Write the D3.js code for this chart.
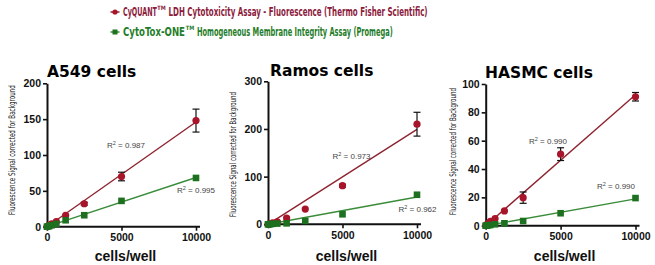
<!DOCTYPE html>
<html><head><meta charset="utf-8">
<script src="https://cdn.jsdelivr.net/npm/d3@7"></script>
<style>
html,body{margin:0;padding:0;background:#fff;}
svg{display:block;}
</style></head>
<body>
<svg id="chart" width="655" height="265"></svg>
<script>
// ---------- data ----------
const cellsPerWell = [0, 78, 156, 312, 625, 1250, 2500, 5000, 10000];
const seriesNames = ["CyQUANT", "CytoTox-ONE"];
const panelTitles = ["A549 cells", "Ramos cells", "HASMC cells"];
const yMaxes = [200, 300, 100];
const yTickSteps = [50, 100, 20];
const xTickValues = [0, 5000, 10000];

const a549CyQuant    = [0, 1, 2, 4, 7, 16, 32, 70, 148];
const a549CyQuantErr = [0, 0, 0, 0, 0, 1, 2, 6, 16];
const a549CytoTox    = [0, 0.5, 1, 2, 4, 9, 16, 36, 68];
const a549CytoToxErr = [0, 0, 0, 0, 0, 0, 0, 1, 1];

const ramosCyQuant    = [0, 0.5, 1.5, 3, 5, 13, 32, 81, 210];
const ramosCyQuantErr = [0, 0, 0, 0, 0, 1, 2, 3, 25];
const ramosCytoTox    = [0, 0, 0.5, 1, 1.5, 2, 7, 21, 62];
const ramosCytoToxErr = [0, 0, 0, 0, 0, 0, 0, 1, 2];

const hasmcCyQuant    = [0, 0.7, 1.5, 3, 5, 10.4, 19.8, 50.5, 91];
const hasmcCyQuantErr = [0, 0, 0.5, 0.5, 0.5, 0.5, 4, 4.5, 3];
const hasmcCytoTox    = [0, 0.1, 0.3, 0.5, 1, 1.7, 3.3, 8.8, 19.5];
const hasmcCytoToxErr = [0, 0, 0, 0, 0, 0, 0, 0.3, 0.5];

const r2CyQuant = ["0.987", "0.973", "0.990"];
const r2CytoTox = ["0.995", "0.962", "0.990"];

const legendLabels = [
  ["CyQUANT", "TM", "LDH Cytotoxicity Assay - Fluorescence (Thermo Fisher Scientific)"],
  ["CytoTox-ONE", "TM", "Homogeneous Membrane Integrity Assay (Promega)"]
];
const yAxisLabel = "Fluorescence Signal corrected for Background";
const xAxisLabel = "cells/well";

// ---------- layout / style ----------
const RED = "#a8142a", RED_LINE = "#8e2430", RED_TEXT = "#8c1a3c";
const GREEN = "#1c701f", GREEN_LINE = "#3a8c3a", GREEN_TEXT = "#1f7d2a";

const panels = [
  {x0: 47,    x1: 196,   yTop: 83.3, y0: 226.7, ylabX: 12,  ylabC: 150,   ylabL: 130, titleX: 47,  titleY: 77,
   r1: [126, 148], r2: [196, 193],
   cq: a549CyQuant, cqe: a549CyQuantErr, ct: a549CytoTox, cte: a549CytoToxErr},
  {x0: 268,   x1: 417,   yTop: 81.3, y0: 224.3, ylabX: 233, ylabC: 154.5, ylabL: 125, titleX: 270, titleY: 76,
   r1: [351.5, 158.5], r2: [417.5, 211.5],
   cq: ramosCyQuant, cqe: ramosCyQuantErr, ct: ramosCytoTox, cte: ramosCytoToxErr},
  {x0: 485.7, x1: 635.5, yTop: 84,   y0: 225.7, ylabX: 453, ylabC: 151.5, ylabL: 127, titleX: 485, titleY: 78,
   r1: [548, 144], r2: [616, 189],
   cq: hasmcCyQuant, cqe: hasmcCyQuantErr, ct: hasmcCytoTox, cte: hasmcCytoToxErr}
];

const svg = d3.select("#chart");

// text squeezed horizontally to a target width via a scale transform
function squeezedText(parent, x, y, width, str, attrs, rotate) {
  const g = parent.append("g");
  const t = g.append("text").text(str);
  Object.entries(attrs).forEach(([k, v]) => t.attr(k, v));
  const natural = t.node().getComputedTextLength();
  const sx = width / natural;
  if (rotate) {
    t.attr("text-anchor", "middle");
    g.attr("transform", `translate(${x},${y}) rotate(-90) scale(${sx},1)`);
  } else {
    g.attr("transform", `translate(${x},${y}) scale(${sx},1)`);
  }
  return t;
}

// ---------- legend ----------
const legendY = [12, 32];
const legendParts = [
  [[123, 34], [157.3, 8.5], [168.5, 259.5]],
  [[123, 62], [185.8, 8.5], [197, 196]]
];
const legColors = [RED_TEXT, GREEN_TEXT];
legendLabels.forEach((lab, i) => {
  const g = svg.append("g");
  g.append("line").attr("x1", 110.5).attr("x2", 119.5).attr("y1", legendY[i]).attr("y2", legendY[i])
    .attr("stroke", i === 0 ? RED_LINE : GREEN_LINE).attr("stroke-width", 1.5);
  if (i === 0) g.append("circle").attr("cx", 115).attr("cy", legendY[i]).attr("r", 2.6).attr("fill", RED);
  else g.append("rect").attr("x", 112.5).attr("y", legendY[i] - 2.5).attr("width", 5).attr("height", 5).attr("fill", GREEN);
  lab.forEach((part, k) => {
    const [px, pw] = legendParts[i][k];
    const sup = k === 1;
    squeezedText(g, px, legendY[i] + (sup ? -2 : 4.3), pw, part, {
      "font-family": "'DejaVu Sans Condensed','Liberation Sans Narrow',sans-serif",
      "font-size": sup ? 6 : 12.5, "font-weight": "bold", "fill": legColors[i]
    });
  });
});

// ---------- panels ----------
function fit(xs, ys) {
  const mx = d3.mean(xs), my = d3.mean(ys);
  let num = 0, den = 0;
  xs.forEach((x, i) => { num += (x - mx) * (ys[i] - my); den += (x - mx) * (x - mx); });
  const b = num / den;
  return {b, a: my - b * mx};
}

panels.forEach((p, pi) => {
  const g = svg.append("g");
  const x = d3.scaleLinear().domain([0, 10000]).range([p.x0, p.x1]);
  const y = d3.scaleLinear().domain([0, yMaxes[pi]]).range([p.y0, p.yTop]);

  // title
  g.append("text").attr("x", p.titleX).attr("y", p.titleY)
    .attr("font-family", "'DejaVu Sans',sans-serif").attr("font-weight", "bold").attr("font-size", 15.5)
    .attr("fill", "#000").text(panelTitles[pi]);

  // y axis label
  squeezedText(g, p.ylabX + 3, p.ylabC, p.ylabL, yAxisLabel, {
    "font-family": "'Liberation Sans Narrow','DejaVu Sans Condensed',sans-serif",
    "font-size": 9, "fill": "#111"
  }, true);

  // x axis label
  g.append("text").attr("x", (p.x0 + p.x1) / 2 + 4).attr("y", 260.5).attr("text-anchor", "middle")
    .attr("font-family", "'Liberation Sans',Arial,sans-serif").attr("font-weight", "bold").attr("font-size", 14)
    .attr("fill", "#111").text(xAxisLabel);

  const series = [
    {vals: p.cq, err: p.cqe, color: RED, line: RED_LINE, shape: "circle"},
    {vals: p.ct, err: p.cte, color: GREEN, line: GREEN_LINE, shape: "square"}
  ];
  // regression lines (drawn first, beneath points)
  series.slice().reverse().forEach(s => {
    const f = fit(cellsPerWell, s.vals);
    g.append("line").attr("x1", x(0)).attr("y1", y(Math.max(0, f.a)))
      .attr("x2", x(10000)).attr("y2", y(f.a + f.b * 10000))
      .attr("stroke", s.line).attr("stroke-width", 1.4);
  });

  // axes
  const yAxis = d3.axisLeft(y).tickValues(d3.range(0, yMaxes[pi] + 1, yTickSteps[pi]))
    .tickSize(4).tickPadding(2).tickSizeOuter(0).tickFormat(d3.format("d"));
  const xAxis = d3.axisBottom(x).tickValues(xTickValues).tickSize(4).tickPadding(3).tickSizeOuter(0)
    .tickFormat(d3.format("d"));
  const ya = g.append("g").attr("transform", `translate(${p.x0},0)`).call(yAxis);
  const xa = g.append("g").attr("transform", `translate(0,${p.y0})`).call(xAxis);
  [ya, xa].forEach(a => {
    a.select(".domain").attr("stroke", "#111").attr("stroke-width", 2);
    a.selectAll(".tick line").attr("stroke", "#111").attr("stroke-width", 1.6);
    a.selectAll(".tick text").attr("font-family", "'Liberation Sans',Arial,sans-serif")
      .attr("font-weight", "bold").attr("font-size", 10.5).attr("fill", "#111");
  });
  xa.select(".domain").attr("d", `M${p.x0},0H${p.x1 + 4}`);

  // points + error bars
  series.forEach(s => {
    cellsPerWell.forEach((cx, i) => {
      const v = s.vals[i], e = s.err[i];
      if (e > 1.5 * (yMaxes[pi] / 200)) {
        const yt = y(v + e), yb = y(v - e);
        g.append("line").attr("x1", x(cx)).attr("x2", x(cx)).attr("y1", yt).attr("y2", yb)
          .attr("stroke", "#111").attr("stroke-width", 1.2);
        [yt, yb].forEach(yy => g.append("line").attr("x1", x(cx) - 3.5).attr("x2", x(cx) + 3.5)
          .attr("y1", yy).attr("y2", yy).attr("stroke", "#111").attr("stroke-width", 1.2));
      }
      if (s.shape === "circle") {
        g.append("circle").attr("cx", x(cx)).attr("cy", y(v)).attr("r", 3.6).attr("fill", s.color);
      } else {
        g.append("rect").attr("x", x(cx) - 3.3).attr("y", y(v) - 3.3).attr("width", 6.6).attr("height", 6.6)
          .attr("fill", s.color);
      }
    });
  });

  // R² labels
  [[p.r1, r2CyQuant[pi]], [p.r2, r2CytoTox[pi]]].forEach(([pos, val]) => {
    const t = g.append("text").attr("x", pos[0]).attr("y", pos[1]).attr("text-anchor", "middle")
      .attr("font-family", "'Liberation Sans',Arial,sans-serif").attr("font-size", 8).attr("fill", "#444");
    t.append("tspan").text("R");
    t.append("tspan").attr("font-size", 5.5).attr("dy", -3).text("2");
    t.append("tspan").attr("dy", 3).text(" = " + val);
  });
});
</script>
</body></html>
